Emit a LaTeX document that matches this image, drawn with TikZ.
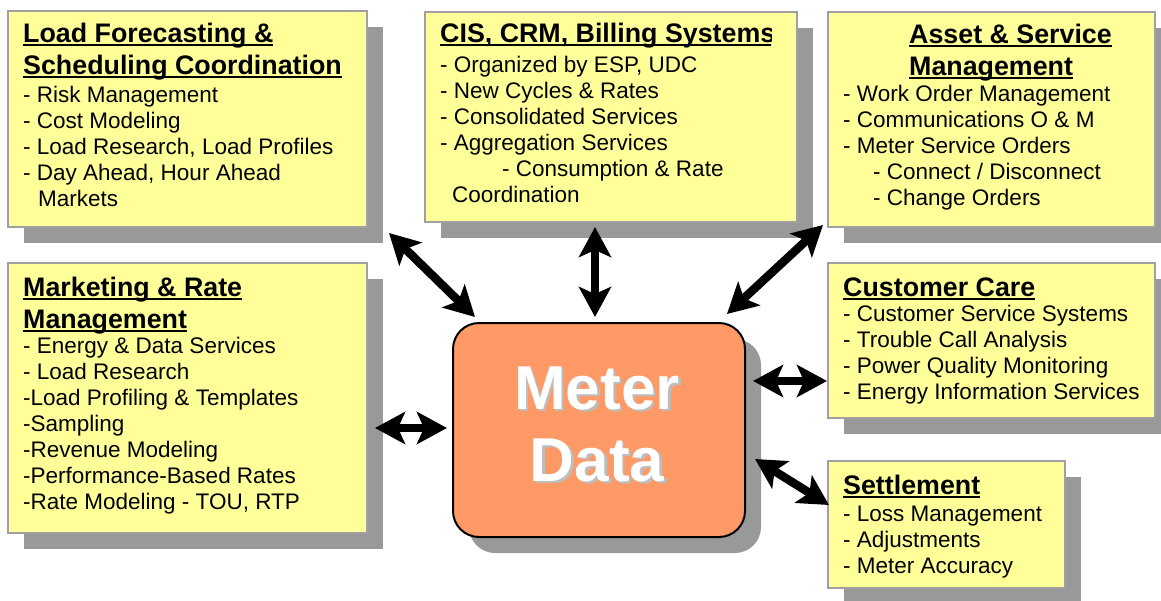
\documentclass[tikz,border=0pt]{standalone}
\usepackage{fontspec}
\setmainfont{Liberation Sans}
\usetikzlibrary{arrows.meta,shadows}
\definecolor{boxyellow}{HTML}{FFFF99}
\definecolor{shadowgray}{HTML}{999999}
\definecolor{bordergray}{HTML}{A0A0A0}
\definecolor{meterorange}{HTML}{FF9966}
\definecolor{textshade}{HTML}{BDBDBD}
\newcommand\myul[1]{\setbox0\hbox{#1}\rlap{\rule[-4pt]{\wd0}{1.8pt}}\box0}
\tikzset{
  panel/.style={draw=bordergray, line width=1.5pt, fill=boxyellow, anchor=north west, inner sep=0pt, outer sep=0pt,
    drop shadow={shadow xshift=16pt, shadow yshift=-16pt, fill=shadowgray, opacity=1}},
  meterbox/.style={draw=black, line width=2pt, fill=meterorange, rounded corners=26pt, anchor=north west, inner sep=0pt, outer sep=0pt,
    drop shadow={shadow xshift=16pt, shadow yshift=-16pt, fill=shadowgray, opacity=1}},
  titletext/.style={anchor=base west, inner sep=0pt, font=\fontsize{26.8}{32}\selectfont\bfseries},
  bodytext/.style={anchor=base west, inner sep=0pt, font=\fontsize{22.5}{26}\selectfont},
  bigtext/.style={anchor=base, inner sep=0pt, font=\fontsize{62}{72}\selectfont\bfseries},
  dblarrow/.style={line width=8.5pt, {Stealth[length=30pt,width=32pt,inset=7pt]}-{Stealth[length=30pt,width=32pt,inset=7pt]}}
}
\begin{document}
\begin{tikzpicture}[x=1pt,y=-1pt]
\useasboundingbox[fill=white] (0,0) rectangle (1161,600);
% boxes
\node[panel, minimum width=359pt, minimum height=216pt] (lf) at (8,11) {};
\node[panel, minimum width=372pt, minimum height=210pt] (cis) at (425,12) {};
\node[panel, minimum width=327pt, minimum height=215pt] (asset) at (828,12) {};
\node[panel, minimum width=359pt, minimum height=270pt] (mkt) at (8,263) {};
\node[panel, minimum width=327pt, minimum height=155pt] (cc) at (828,263) {};
\node[panel, minimum width=237pt, minimum height=127pt] (set) at (828,461) {};
\node[meterbox, minimum width=292pt, minimum height=214pt] (md) at (453,323) {};
% texts
\node[titletext] (lf-t) at (23,42) {\begin{tabular}[t]{@{}l@{}}\myul{Load Forecasting \&}\\ \myul{Scheduling Coordination}\end{tabular}};
\node[bodytext] (lf-b) at (23,102) {\begin{tabular}[t]{@{}l@{}}- Risk Management\\- Cost Modeling\\- Load Research, Load Profiles\\- Day Ahead, Hour Ahead\\\hspace{15pt}Markets\end{tabular}};
\begin{scope}
\clip (425,0) rectangle (771,100);
\node[titletext] (cis-t) at (440,42) {\myul{CIS, CRM, Billing Systems}};
\end{scope}
\node[bodytext] (cis-b) at (440,72) {\begin{tabular}[t]{@{}l@{}}- Organized by ESP, UDC\\- New Cycles \& Rates\\- Consolidated Services\\- Aggregation Services\\\hspace{62pt}- Consumption \& Rate\\\hspace{12pt}Coordination\end{tabular}};
\node[titletext] (asset-t) at (909,43) {\begin{tabular}[t]{@{}l@{}}\myul{Asset \& Service}\\ \myul{Management}\end{tabular}};
\node[bodytext] (asset-b) at (843,101) {\begin{tabular}[t]{@{}l@{}}- Work Order Management\\- Communications O \& M\\- Meter Service Orders\\\hspace{30pt}- Connect / Disconnect\\\hspace{30pt}- Change Orders\end{tabular}};
\node[titletext] (mkt-t) at (23,296) {\begin{tabular}[t]{@{}l@{}}\myul{Marketing \& Rate}\\ \myul{Management}\end{tabular}};
\node[bodytext] (mkt-b) at (23,353) {\begin{tabular}[t]{@{}l@{}}- Energy \& Data Services\\- Load Research\\-Load Profiling \& Templates\\-Sampling\\-Revenue Modeling\\-Performance-Based Rates\\-Rate Modeling - TOU, RTP\end{tabular}};
\node[titletext] (cc-t) at (843,296) {\myul{Customer Care}};
\node[bodytext] (cc-b) at (843,321) {\begin{tabular}[t]{@{}l@{}}- Customer Service Systems\\- Trouble Call Analysis\\- Power Quality Monitoring\\- Energy Information Services\end{tabular}};
\node[titletext] (set-t) at (843,494) {\myul{Settlement}};
\node[bodytext] (set-b) at (843,521) {\begin{tabular}[t]{@{}l@{}}- Loss Management\\- Adjustments\\- Meter Accuracy\end{tabular}};
% meter data text with shadow
\node[bigtext, text=textshade] (md-s1) at (599.5,411.5) {Meter};
\node[bigtext, text=textshade] (md-s2) at (599.5,483.5) {Data};
\node[bigtext, text=white] (md-t1) at (597,409) {Meter};
\node[bigtext, text=white] (md-t2) at (597,481) {Data};
% arrow end points
\coordinate (a1s) at (389,233); \coordinate (a1e) at (475,317);
\coordinate (a2s) at (595,227); \coordinate (a2e) at (595,317);
\coordinate (a3s) at (823,225); \coordinate (a3e) at (727,314);
\coordinate (a4s) at (753,381); \coordinate (a4e) at (827,381);
\coordinate (a5s) at (755,459); \coordinate (a5e) at (829,505);
\coordinate (a6s) at (375,428); \coordinate (a6e) at (447,428);
\draw[dblarrow] (a1s) -- (a1e);
\draw[dblarrow] (a2s) -- (a2e);
\draw[dblarrow] (a3s) -- (a3e);
\draw[dblarrow] (a4s) -- (a4e);
\draw[dblarrow] (a5s) -- (a5e);
\draw[dblarrow] (a6s) -- (a6e);
\end{tikzpicture}
\end{document}
